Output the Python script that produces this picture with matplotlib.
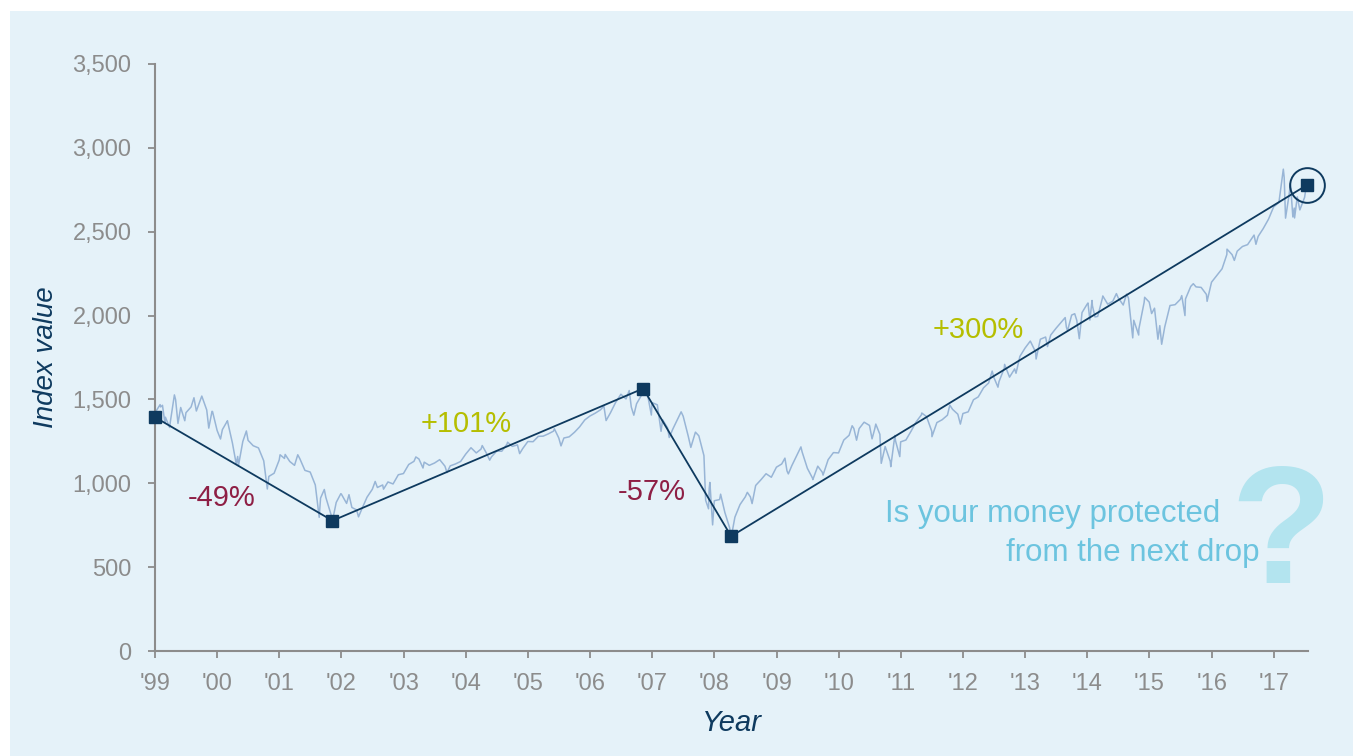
import pandas as pd
import matplotlib
matplotlib.use("Agg")
import matplotlib.pyplot as plt
from matplotlib.patches import Rectangle

plt.rcParams['font.family'] = ['Liberation Sans', 'DejaVu Sans']

# monthly closes, Dec 1999 .. Jun 2018
monthly_close = [
    1469,
    1394, 1366, 1499, 1452, 1421, 1455, 1431, 1518, 1437, 1429, 1315, 1320,
    1366, 1240, 1160, 1249, 1256, 1224, 1211, 1134, 1041, 1060, 1139, 1148,
    1130, 1107, 1147, 1077, 1067, 990, 912, 916, 815, 886, 936, 880,
    856, 841, 848, 917, 964, 975, 990, 1008, 996, 1051, 1058, 1112,
    1131, 1145, 1126, 1107, 1121, 1141, 1102, 1104, 1115, 1130, 1174, 1212,
    1181, 1204, 1181, 1157, 1192, 1191, 1234, 1220, 1229, 1207, 1249, 1248,
    1280, 1281, 1295, 1311, 1270, 1270, 1277, 1304, 1336, 1378, 1401, 1418,
    1438, 1407, 1421, 1482, 1531, 1503, 1455, 1474, 1527, 1549, 1481, 1468,
    1379, 1331, 1323, 1386, 1400, 1280, 1267, 1283, 1165, 969, 896, 903,
    826, 735, 798, 873, 919, 919, 987, 1021, 1057, 1036, 1096, 1115,
    1074, 1104, 1169, 1187, 1089, 1031, 1102, 1049, 1141, 1183, 1181, 1258,
    1286, 1327, 1326, 1364, 1345, 1321, 1292, 1219, 1131, 1253, 1247, 1258,
    1312, 1366, 1408, 1398, 1310, 1362, 1379, 1406, 1441, 1412, 1416, 1426,
    1498, 1515, 1569, 1598, 1631, 1606, 1686, 1633, 1682, 1757, 1806, 1848,
    1783, 1859, 1872, 1884, 1924, 1960, 1931, 2003, 1972, 2018, 2068, 2059,
    1995, 2105, 2068, 2086, 2107, 2063, 2104, 1972, 1920, 2079, 2080, 2044,
    1940, 1932, 2060, 2065, 2097, 2099, 2174, 2171, 2168, 2126, 2199, 2239,
    2279, 2364, 2363, 2384, 2412, 2423, 2470, 2472, 2519, 2575, 2648, 2674,
    2824, 2714, 2641, 2648, 2705, 2718,
]
month_dates = pd.date_range('1999-12-31', '2018-06-30', freq='ME')

# intra-month highs and lows
swing_dates = [
    '1999-12-01', '2000-01-03', '2000-01-14', '2000-01-28', '2000-02-25', '2000-03-24',
    '2000-04-14', '2000-05-24', '2000-07-17', '2000-09-01', '2000-10-12', '2000-11-03',
    '2000-12-20', '2001-01-30', '2001-03-22', '2001-04-04', '2001-05-21', '2001-09-21',
    '2001-12-05', '2002-01-04', '2002-03-19', '2002-07-23', '2002-08-22', '2002-10-09',
    '2002-11-27', '2003-01-14', '2003-03-11', '2003-06-17', '2003-08-05', '2004-02-11',
    '2004-03-24', '2004-08-12', '2005-03-07', '2005-04-20', '2005-08-03', '2005-10-13',
    '2006-05-05', '2006-06-13', '2007-02-20', '2007-03-05', '2007-07-19', '2007-08-15',
    '2007-10-09', '2007-11-26', '2008-01-22', '2008-03-10', '2008-05-19', '2008-07-15',
    '2008-08-11', '2008-10-10', '2008-10-27', '2008-11-04', '2008-11-20', '2009-01-06',
    '2009-03-09', '2009-06-12', '2009-07-10', '2010-01-19', '2010-02-08', '2010-04-23',
    '2010-07-02', '2010-08-27', '2011-02-18', '2011-03-16', '2011-04-29', '2011-06-15',
    '2011-07-07', '2011-08-08', '2011-08-31', '2011-10-03', '2011-10-27', '2011-11-25',
    '2012-04-02', '2012-06-01', '2012-09-14', '2012-11-15', '2013-05-21', '2013-06-24',
    '2013-08-02', '2013-10-08', '2014-02-03', '2014-04-11', '2014-07-24', '2014-08-07',
    '2014-09-18', '2014-10-15', '2014-12-05', '2014-12-16', '2014-12-29', '2015-01-15',
    '2015-03-02', '2015-05-21', '2015-07-20', '2015-08-25', '2015-09-29', '2015-11-03',
    '2015-12-14', '2016-01-20', '2016-02-11', '2016-06-08', '2016-06-27', '2016-08-15',
    '2016-11-04', '2017-03-01', '2017-04-13', '2017-08-07', '2017-08-18', '2018-01-26',
    '2018-02-08', '2018-03-09', '2018-03-23', '2018-04-02', '2018-04-18', '2018-05-03',
    '2018-06-12', '2018-06-15',
]
swing_values = [
    1420, 1455, 1465, 1360, 1333, 1527,
    1357, 1373, 1510, 1520, 1329, 1428,
    1264, 1373, 1117, 1103, 1312, 966,
    1170, 1172, 1170, 797, 963, 777,
    938, 932, 800, 1011, 965, 1157,
    1091, 1064, 1225, 1138, 1245, 1177,
    1325, 1223, 1460, 1374, 1553, 1406,
    1565, 1407, 1310, 1273, 1426, 1214,
    1305, 899, 848, 1005, 752, 935,
    677, 946, 879, 1150, 1056, 1217,
    1022, 1065, 1343, 1257, 1364, 1265,
    1353, 1119, 1219, 1099, 1285, 1159,
    1419, 1278, 1466, 1353, 1669, 1573,
    1709, 1656, 1741, 1815, 1988, 1910,
    2011, 1862, 2075, 1973, 2090, 1992,
    2117, 2131, 2128, 1867, 1884, 2109,
    2012, 1859, 1829, 2119, 2000, 2190,
    2085, 2396, 2329, 2480, 2425, 2873,
    2581, 2787, 2588, 2582, 2708, 2630,
    2787, 2780,
]

# turning points joined by the dark trend line
pivot_dates = ['1999-12-01', '2002-10-09', '2007-10-09', '2009-03-09', '2018-06-15']
pivot_values = [1394, 777, 1565, 684, 2779]

tick_years = list(range(1999, 2018))
tick_labels = ["'%02d" % (y % 100) for y in tick_years]

moves = ['-49%', '+101%', '-57%', '+300%']

navy = '#0E3A5F'
grey = '#8C8C8C'
panel = '#E5F2F9'
red = '#8E1F45'
olive = '#B5BE00'
sky = '#6CC4DF'

series = pd.Series(monthly_close, index=month_dates)
series = pd.concat([series, pd.Series(swing_values, index=pd.to_datetime(swing_dates))])
series = series.sort_index()

fig = plt.figure(figsize=(13.53, 7.56), dpi=100)
fig.patch.set_facecolor('white')
fig.patches.append(Rectangle((10 / 1353, 0), 1, 1 - 11 / 756, transform=fig.transFigure,
                             facecolor=panel, edgecolor='none', zorder=-10))

ax = fig.add_axes([155 / 1353, 1 - 651 / 756, 1153 / 1353, 587 / 756])
ax.set_facecolor('none')

ax.plot(series.index, series.values, color='#98B5D6', lw=1.1, zorder=2)
pdates = pd.to_datetime(pivot_dates)
ax.plot(pdates, pivot_values, color=navy, lw=1.3, zorder=3)
ax.plot(pdates, pivot_values, 's', color=navy, ms=8, zorder=4, clip_on=False)
ax.plot(pdates[-1:], pivot_values[-1:], 'o', mfc='none', mec=navy, mew=1.4, ms=25, zorder=4,
        clip_on=False)

ax.set_xlim(pd.Timestamp('1999-12-01'), pd.Timestamp('2018-06-20'))
ax.set_ylim(0, 3500)
ax.set_xticks([pd.Timestamp('%d-12-01' % y) for y in tick_years])
ax.set_xticklabels(tick_labels)
ax.set_yticks(range(0, 3501, 500))
ax.set_yticklabels(['{:,}'.format(v) for v in range(0, 3501, 500)])

for s in ['top', 'right']:
    ax.spines[s].set_visible(False)
for s in ['left', 'bottom']:
    ax.spines[s].set_color(grey)
    ax.spines[s].set_linewidth(1.5)
ax.tick_params(colors=grey, labelcolor=grey, labelsize=17, length=5, width=1.3, direction='out')
ax.tick_params(axis='x', pad=11)
ax.tick_params(axis='y', pad=12)

ax.set_ylabel('Index value', fontsize=20, style='italic', color=navy)
ax.yaxis.set_label_coords(-0.083, 0.5)
ax.set_xlabel('Year', fontsize=21, style='italic', color=navy)
ax.xaxis.set_label_coords(0.5, -0.098)

move_pos = [(222, 498), (466, 424), (652, 492), (978, 330)]
move_col = [red, olive, red, olive]
for txt, (px, py), c in zip(moves, move_pos, move_col):
    ax.text((px - 155) / 1153, (651 - py) / 587, txt, transform=ax.transAxes,
            ha='center', va='center', fontsize=21, color=c)

fig.text(1281 / 1353, 1 - 540 / 756, '?', fontsize=120, fontweight='bold', color='#B3E4EF',
         ha='center', va='center', zorder=1)
fig.text(1220 / 1353, 1 - 514 / 756, 'Is your money protected', fontsize=22.5, color=sky,
         ha='right', va='center', zorder=2)
fig.text(1260 / 1353, 1 - 553 / 756, 'from the next drop', fontsize=22.5, color=sky,
         ha='right', va='center', zorder=2)

fig.savefig('out.png', dpi=100, facecolor=fig.get_facecolor())
